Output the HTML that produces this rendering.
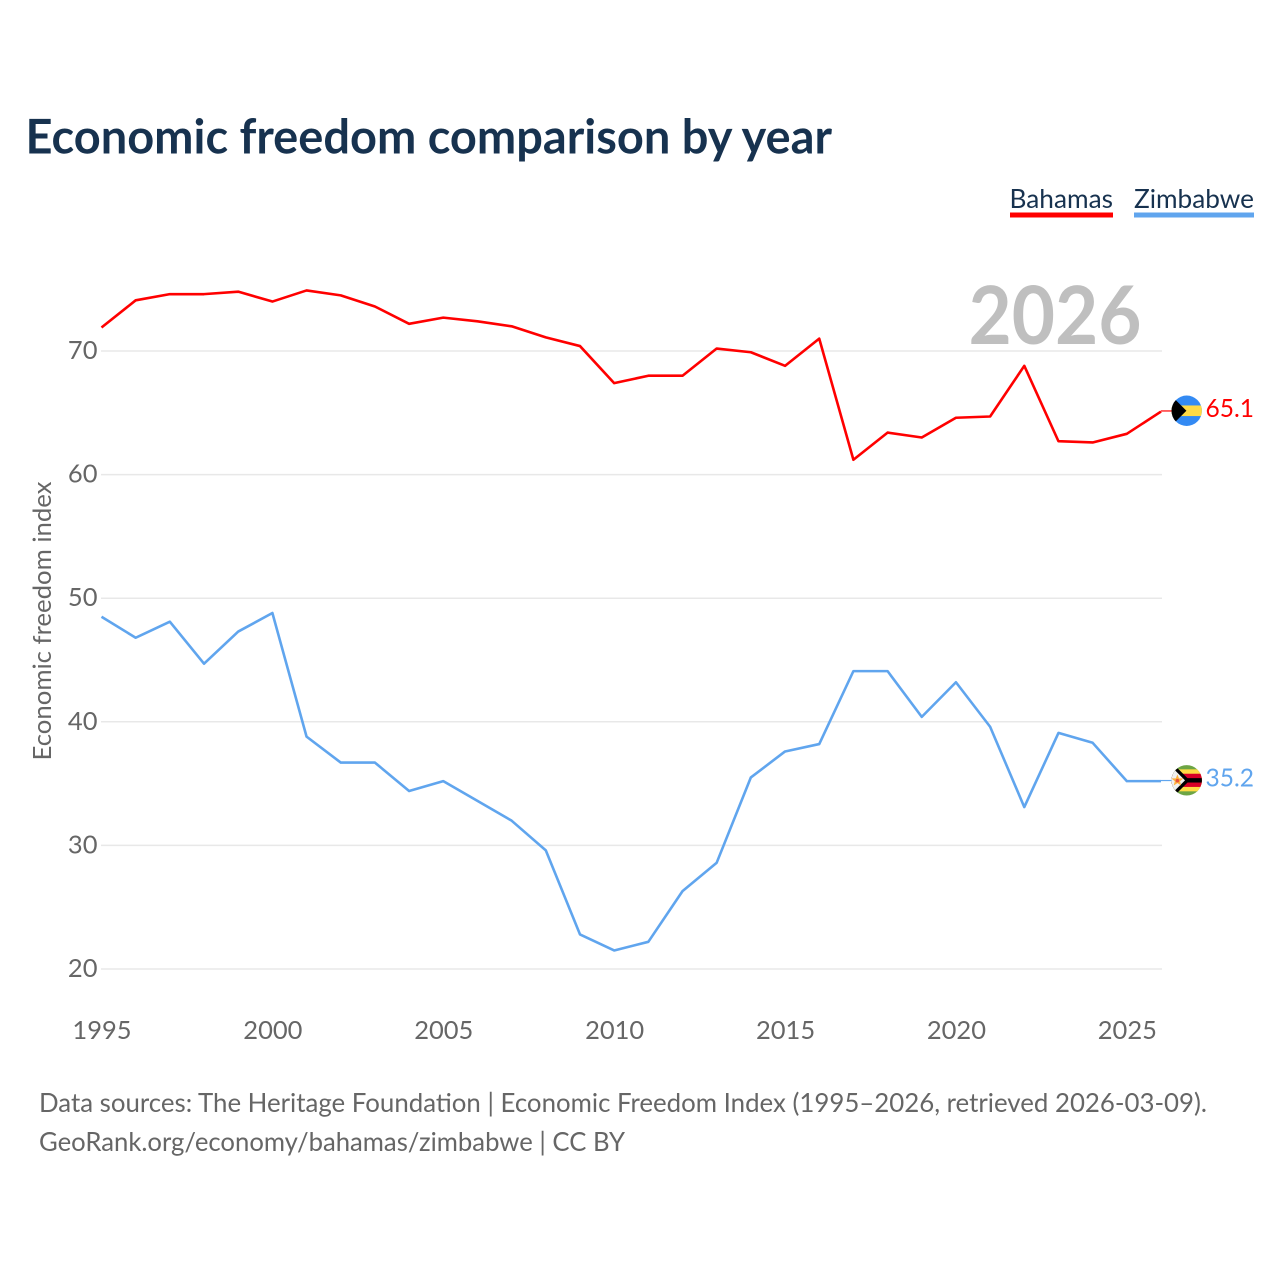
<!DOCTYPE html>
<html lang="en">
<head>
<meta charset="utf-8">
<title>Economic freedom comparison by year</title>
<style>
html,body{margin:0;padding:0;background:#fff;width:1280px;height:1280px;overflow:hidden}
svg{display:block}
text{font-family:"Lato","Carlito","Liberation Sans",sans-serif}
</style>
</head>
<body>
<svg id="chart" width="1280" height="1280" viewBox="0 0 1280 1280" xmlns="http://www.w3.org/2000/svg">
  <rect width="1280" height="1280" fill="#fff"/>
  <text x="25.5" y="153.5" font-size="47.5" font-weight="700" fill="#17324f" textLength="806.5" lengthAdjust="spacingAndGlyphs">Economic freedom comparison by year</text>
  <g>
    <text x="1009.5" y="208" font-size="26.5" fill="#17324f" textLength="103.5" lengthAdjust="spacingAndGlyphs">Bahamas</text>
    <rect x="1010" y="212.5" width="103" height="5" fill="#ff0000"/>
  </g>
  <g>
    <text x="1134" y="208" font-size="26.5" fill="#17324f" textLength="120" lengthAdjust="spacingAndGlyphs">Zimbabwe</text>
    <rect x="1134" y="212.5" width="120" height="5" fill="#60a5ee"/>
  </g>
  <g id="grid"></g>
  <text x="968.5" y="344" font-size="80.5" font-weight="700" fill="#bfbfbf" textLength="173" lengthAdjust="spacingAndGlyphs">2026</text>
  <g id="yticks"></g>
  <g id="xticks"></g>
  <text transform="translate(51,760.5) rotate(-90)" font-size="25.5" fill="#666" textLength="279" lengthAdjust="spacingAndGlyphs">Economic freedom index</text>
  <g id="series"></g>

  <defs>
    <clipPath id="flag-clip"><circle cx="0" cy="0" r="15.2"/></clipPath>
  </defs>
  <g id="flag-bahamas">
    <g clip-path="url(#flag-clip)">
      <rect x="-16" y="-16" width="32" height="32" fill="#338af3"/>
      <rect x="-16" y="-5.3" width="32" height="10.6" fill="#ffda44"/>
      <path d="M-16,-15.7 L-0.3,0 L-16,15.7 Z" fill="#000"/>
    </g>
  </g>
  <g id="flag-zimbabwe">
    <g clip-path="url(#flag-clip)">
      <rect x="-16" y="-16" width="32" height="32" fill="#6da544"/>
      <rect x="-16" y="-11" width="32" height="22" fill="#ffda44"/>
      <rect x="-16" y="-6.6" width="32" height="13.2" fill="#d80027"/>
      <rect x="-16" y="-2.2" width="32" height="4.4" fill="#000"/>
      <path d="M-16,-16 L-11,-14 L3,0 L-11,14 L-16,16 Z" fill="#000"/>
      <path d="M-17,-15.4 L-1.7,0 L-17,15.4 Z" fill="#f0f0f0"/>
      <path d="M-9.3,-6 L-7.7,-1.9 L-3.3,-1.9 L-6.7,0.9 L-5.6,5.2 L-9.3,2.8 L-13,5.2 L-11.9,0.9 L-15.3,-1.9 L-10.9,-1.9 Z" fill="#ffb13c"/>
      <circle cx="-9.3" cy="0.3" r="1.8" fill="#e8503a"/>
    </g>
  </g>
  <g id="end-labels"></g>

  <text x="39" y="1112" font-size="26.5" fill="#666" textLength="1168" lengthAdjust="spacingAndGlyphs">Data sources: The Heritage Foundation | Economic Freedom Index (1995–2026, retrieved 2026-03-09).</text>
  <text x="39" y="1151" font-size="26.5" fill="#666" textLength="586" lengthAdjust="spacingAndGlyphs">GeoRank.org/economy/bahamas/zimbabwe | CC BY</text>
</svg>
<script>
const years = [1995,1996,1997,1998,1999,2000,2001,2002,2003,2004,2005,2006,2007,2008,2009,2010,2011,2012,2013,2014,2015,2016,2017,2018,2019,2020,2021,2022,2023,2024,2025,2026];
const bahamasValues = [71.9,74.1,74.6,74.6,74.8,74.0,74.9,74.5,73.6,72.2,72.7,72.4,72.0,71.1,70.4,67.4,68.0,68.0,70.2,69.9,68.8,71.0,61.2,63.4,63.0,64.6,64.7,68.8,62.7,62.6,63.3,65.1];
const zimbabweValues = [48.5,46.8,48.1,44.7,47.3,48.8,38.8,36.7,36.7,34.4,35.2,33.6,32.0,29.6,22.8,21.5,22.2,26.3,28.6,35.5,37.6,38.2,44.1,44.1,40.4,43.2,39.6,33.1,39.1,38.3,35.2,35.2];
const yTickLabels = [20,30,40,50,60,70];
const xTickLabels = [1995,2000,2005,2010,2015,2020,2025];

const NS = 'http://www.w3.org/2000/svg';
function xScale(year){ return 101.5 + (year - 1995) * (1161 - 101.5) / 31; }
function yScale(value){ return 969 - (value - 20) * 12.36; }
function make(tag, attrs, parent, content){
  const el = document.createElementNS(NS, tag);
  for (const k in attrs) el.setAttribute(k, attrs[k]);
  if (content !== undefined) el.textContent = content;
  parent.appendChild(el);
  return el;
}
const gridG = document.getElementById('grid');
const yG = document.getElementById('yticks');
const xG = document.getElementById('xticks');
const seriesG = document.getElementById('series');
const endG = document.getElementById('end-labels');

yTickLabels.forEach(function(v){
  const line = make('line', {x1:101, x2:1162, y1:yScale(v), y2:yScale(v), stroke:'#e8e8e8', 'stroke-width':1.5}, gridG);
  
  
  const label = make('text', {x:97.5, y:yScale(v)+8, 'text-anchor':'end', 'font-size':25.5, fill:'#666'}, yG, String(v));
  
  
});
xTickLabels.forEach(function(v){
  const label = make('text', {x:xScale(v)+0.5, y:1039, 'text-anchor':'middle', 'font-size':25.5, fill:'#666'}, xG, String(v));
  
  
});
function drawSeries(name, values, color, flagId){
  const pts = values.map(function(v, i){ return xScale(years[i]).toFixed(2) + ',' + yScale(v).toFixed(2); }).join(' ');
  const line = make('polyline', {points:pts, fill:'none', stroke:color, 'stroke-width':2.6, 'stroke-linejoin':'round'}, seriesG);
  
  
  const lastValue = values[values.length - 1];
  const lastY = yScale(lastValue);
  const connector = make('line', {x1:xScale(years[years.length-1]), x2:1173, y1:lastY-0.6, y2:lastY-0.6, stroke:color, 'stroke-width':1.2}, seriesG);
  
  
  document.getElementById(flagId).setAttribute('transform', 'translate(1186.7,' + (lastY-0.8).toFixed(2) + ')');
  const label = make('text', {x:1205.5, y:lastY+5.2, 'font-size':25.5, fill:color, textLength:48.5, lengthAdjust:'spacingAndGlyphs'}, endG, lastValue.toFixed(1));
  
  
}
drawSeries('bahamas', bahamasValues, '#ff0000', 'flag-bahamas');
drawSeries('zimbabwe', zimbabweValues, '#60a5ee', 'flag-zimbabwe');
</script>
</body>
</html>
